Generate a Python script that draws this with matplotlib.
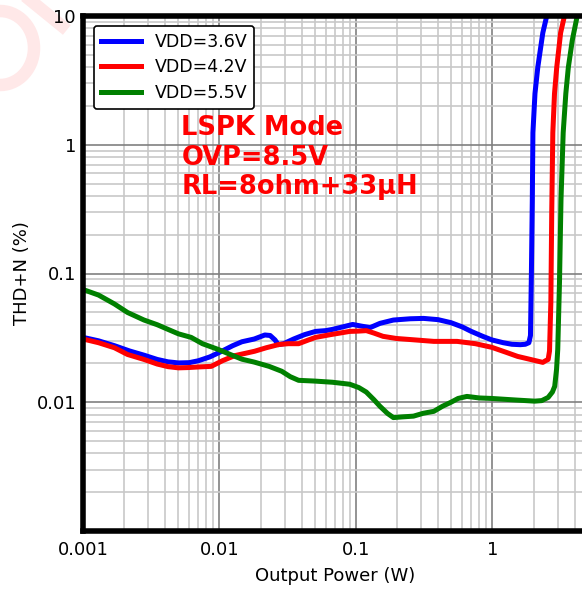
import matplotlib
matplotlib.use("Agg")
import matplotlib.pyplot as plt
from matplotlib.patches import Arc
from matplotlib.lines import Line2D

# Output power (W) / THD+N (%)
p_36 = [0.001, 0.0013, 0.0017, 0.0022, 0.0028, 0.0035, 0.0042, 0.005, 0.006, 0.007,
        0.0085, 0.0104, 0.0125, 0.0146, 0.018, 0.0215, 0.0235, 0.0255, 0.027, 0.0295,
        0.035, 0.042, 0.0506, 0.06, 0.0673, 0.08, 0.0946, 0.11, 0.127, 0.15,
        0.188, 0.25, 0.313, 0.4, 0.497, 0.6, 0.70, 0.85, 0.99, 1.2,
        1.39, 1.6, 1.74, 1.85, 1.9, 1.93, 1.96, 1.98, 2.05, 2.15, 2.34, 2.5]
thd_36 = [0.0319, 0.030, 0.0275, 0.025, 0.0232, 0.0215, 0.0206, 0.0202, 0.0203, 0.021,
          0.0225, 0.0249, 0.0275, 0.0295, 0.031, 0.0333, 0.033, 0.0305, 0.028, 0.0285,
          0.031, 0.0335, 0.0355, 0.036, 0.0368, 0.0385, 0.0402, 0.039, 0.038, 0.041,
          0.0435, 0.0445, 0.0448, 0.0438, 0.0415, 0.0385, 0.0355, 0.0325, 0.0305, 0.029,
          0.0282, 0.028, 0.0282, 0.029, 0.033, 0.1, 0.375, 1.24, 2.5, 4.0, 7.4, 10.0]

p_42 = [0.001, 0.0013, 0.0017, 0.00212, 0.0028, 0.0035, 0.0042, 0.005, 0.0059, 0.007,
        0.0087, 0.0105, 0.0129, 0.0155, 0.0181, 0.022, 0.0273, 0.032, 0.038, 0.045,
        0.0506, 0.065, 0.090, 0.105, 0.119, 0.135, 0.158, 0.197, 0.27, 0.372,
        0.551, 0.75, 0.99, 1.25, 1.53, 1.9, 2.34, 2.45, 2.56, 2.62,
        2.68, 2.72, 2.77, 2.85, 2.96, 3.16, 3.37]
thd_42 = [0.031, 0.029, 0.0265, 0.0235, 0.0215, 0.0198, 0.0189, 0.0185, 0.0186, 0.0188,
          0.019, 0.021, 0.023, 0.024, 0.0249, 0.0265, 0.0281, 0.0285, 0.0285, 0.0305,
          0.0319, 0.0335, 0.0355, 0.0357, 0.036, 0.0345, 0.0325, 0.0313, 0.0305, 0.0297,
          0.0297, 0.0285, 0.0267, 0.0245, 0.0227, 0.0215, 0.0204, 0.021, 0.0215, 0.025,
          0.06, 0.3, 1.24, 2.5, 4.0, 7.4, 10.0]

p_55 = [0.001, 0.0013, 0.0017, 0.00212, 0.0028, 0.0035, 0.0042, 0.005, 0.0062, 0.0075,
        0.0098, 0.012, 0.0146, 0.018, 0.0231, 0.0286, 0.033, 0.038, 0.05, 0.0673,
        0.090, 0.105, 0.119, 0.135, 0.150, 0.17, 0.188, 0.22, 0.264, 0.31,
        0.372, 0.43, 0.497, 0.56, 0.65, 0.8, 0.99, 1.5, 2.04, 2.3,
        2.56, 2.75, 2.86, 2.95, 3.01, 3.06, 3.1, 3.18, 3.3, 3.45, 3.6, 3.85, 4.18]
thd_55 = [0.0751, 0.068, 0.058, 0.0498, 0.0435, 0.040, 0.0368, 0.034, 0.0319, 0.0285,
          0.0257, 0.0235, 0.0216, 0.0205, 0.019, 0.0174, 0.0158, 0.0148, 0.0146, 0.0143,
          0.0138, 0.013, 0.012, 0.0105, 0.0093, 0.0082, 0.0076, 0.0077, 0.0078, 0.0082,
          0.0085, 0.0093, 0.0100, 0.0107, 0.0111, 0.0108, 0.0107, 0.0104, 0.0102, 0.0103,
          0.0109, 0.012, 0.0133, 0.018, 0.0257, 0.05, 0.085, 0.375, 1.24, 2.5, 4.0, 6.5, 10.0]

W, H = 582, 590
fig = plt.figure(figsize=(W / 100, H / 100), dpi=100)

# faint watermark in the corner
wm = "#ffe8e8"
fig.add_artist(Arc((0, H - 48), 68, 74, theta1=-100, theta2=100, lw=9,
                   color=wm, transform=None, zorder=0))
fig.add_artist(Line2D([30, 62], [H, H - 26], lw=9, color=wm, transform=None, zorder=0))

ax = fig.add_axes([83 / W, 59 / H, (W - 83) / W + 0.01, (531 - 16) / H])
ax.plot(p_36, thd_36, color="blue", lw=3.6, label="VDD=3.6V")
ax.plot(p_42, thd_42, color="red", lw=3.6, label="VDD=4.2V")
ax.plot(p_55, thd_55, color="green", lw=3.6, label="VDD=5.5V")

ax.set_xscale("log")
ax.set_yscale("log")
ax.set_xlim(0.001, 5.0)
ax.set_ylim(0.001, 10)
ax.set_xticks([0.001, 0.01, 0.1, 1])
ax.set_xticklabels(["0.001", "0.01", "0.1", "1"])
ax.set_yticks([0.01, 0.1, 1, 10])
ax.set_yticklabels(["0.01", "0.1", "1", "10"])
ax.tick_params(which="both", length=0, labelsize=13)
ax.tick_params(axis="x", pad=7)
ax.tick_params(axis="y", pad=5)
ax.grid(which="major", color="#808080", lw=1.2)
ax.grid(which="minor", color="#c8c8c8", lw=1.2)
ax.set_axisbelow(True)

for s in ["left", "top", "bottom"]:
    ax.spines[s].set_linewidth(4)
ax.spines["right"].set_visible(False)

ax.set_xlabel("Output Power (W)", fontsize=13, labelpad=6)
ax.set_ylabel("THD+N (%)", fontsize=13)

leg = ax.legend(loc="upper left", fontsize=12.5, framealpha=1, edgecolor="black",
                borderpad=0.4, handlelength=2.3, labelspacing=0.45,
                bbox_to_anchor=(0.004, 0.998))
leg.get_frame().set_linewidth(1.2)

ax.text(0.195, 0.807, "LSPK Mode\nOVP=8.5V\nRL=8ohm+33\u03bcH", transform=ax.transAxes,
        color="red", fontsize=18.5, fontweight="bold", va="top", linespacing=1.16)

fig.savefig("out.png", dpi=100)
